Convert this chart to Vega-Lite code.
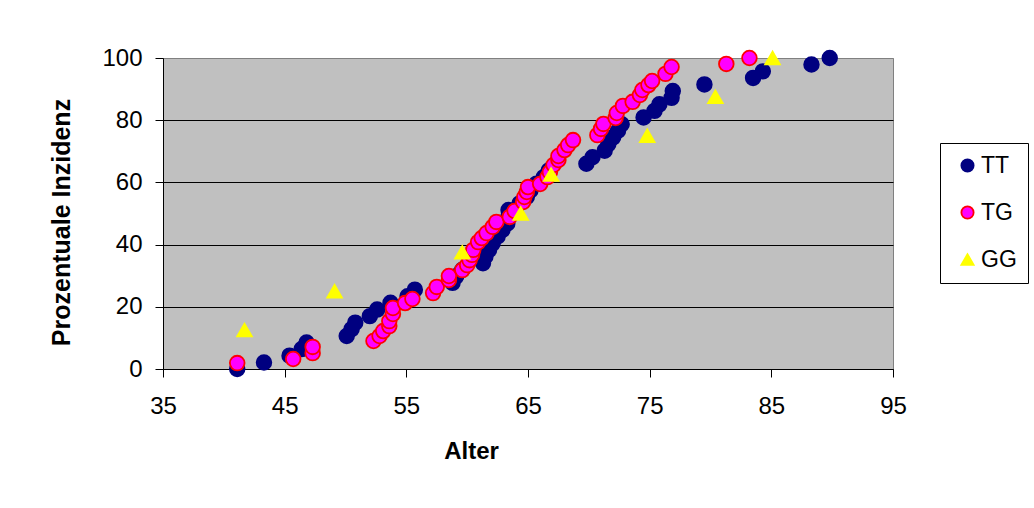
{
  "$schema": "https://vega.github.io/schema/vega-lite/v6.json",
  "width": 730,
  "height": 311,
  "autosize": {"type": "none"},
  "padding": {"left": 163, "top": 58, "right": 141, "bottom": 139},
  "background": "white",
  "data": {
    "values": [
      {"g": "TT", "alter": 41.1, "p": 0},
      {"g": "TT", "alter": 43.3, "p": 2.1},
      {"g": "TT", "alter": 45.4, "p": 4.3},
      {"g": "TT", "alter": 46.4, "p": 6.4},
      {"g": "TT", "alter": 46.8, "p": 8.5},
      {"g": "TT", "alter": 50.1, "p": 10.6},
      {"g": "TT", "alter": 50.5, "p": 12.8},
      {"g": "TT", "alter": 50.8, "p": 14.9},
      {"g": "TT", "alter": 52.0, "p": 17.0},
      {"g": "TT", "alter": 52.6, "p": 19.1},
      {"g": "TT", "alter": 53.7, "p": 21.3},
      {"g": "TT", "alter": 55.1, "p": 23.4},
      {"g": "TT", "alter": 55.7, "p": 25.5},
      {"g": "TT", "alter": 58.8, "p": 27.7},
      {"g": "TT", "alter": 59.1, "p": 29.8},
      {"g": "TT", "alter": 59.6, "p": 31.9},
      {"g": "TT", "alter": 61.3, "p": 34.0},
      {"g": "TT", "alter": 61.5, "p": 36.2},
      {"g": "TT", "alter": 61.8, "p": 38.3},
      {"g": "TT", "alter": 62.1, "p": 40.4},
      {"g": "TT", "alter": 62.5, "p": 42.6},
      {"g": "TT", "alter": 62.9, "p": 44.7},
      {"g": "TT", "alter": 63.3, "p": 46.8},
      {"g": "TT", "alter": 63.4, "p": 48.9},
      {"g": "TT", "alter": 63.4, "p": 51.1},
      {"g": "TT", "alter": 64.3, "p": 53.2},
      {"g": "TT", "alter": 64.9, "p": 55.3},
      {"g": "TT", "alter": 65.2, "p": 57.4},
      {"g": "TT", "alter": 65.7, "p": 59.6},
      {"g": "TT", "alter": 66.3, "p": 61.7},
      {"g": "TT", "alter": 66.7, "p": 63.8},
      {"g": "TT", "alter": 69.8, "p": 66.0},
      {"g": "TT", "alter": 70.3, "p": 68.1},
      {"g": "TT", "alter": 71.3, "p": 70.2},
      {"g": "TT", "alter": 71.6, "p": 72.3},
      {"g": "TT", "alter": 72.0, "p": 74.5},
      {"g": "TT", "alter": 72.4, "p": 76.6},
      {"g": "TT", "alter": 72.7, "p": 78.7},
      {"g": "TT", "alter": 74.5, "p": 80.9},
      {"g": "TT", "alter": 75.4, "p": 83.0},
      {"g": "TT", "alter": 75.8, "p": 85.1},
      {"g": "TT", "alter": 76.8, "p": 87.2},
      {"g": "TT", "alter": 76.9, "p": 89.4},
      {"g": "TT", "alter": 79.5, "p": 91.5},
      {"g": "TT", "alter": 83.5, "p": 93.6},
      {"g": "TT", "alter": 84.3, "p": 95.7},
      {"g": "TT", "alter": 88.3, "p": 97.9},
      {"g": "TT", "alter": 89.8, "p": 100},
      {"g": "TG", "alter": 41.1, "p": 1.9},
      {"g": "TG", "alter": 45.7, "p": 3.2},
      {"g": "TG", "alter": 47.3, "p": 5.1},
      {"g": "TG", "alter": 47.3, "p": 7.1},
      {"g": "TG", "alter": 52.3, "p": 9.0},
      {"g": "TG", "alter": 52.8, "p": 10.6},
      {"g": "TG", "alter": 53.1, "p": 12.2},
      {"g": "TG", "alter": 53.6, "p": 13.8},
      {"g": "TG", "alter": 53.6, "p": 15.4},
      {"g": "TG", "alter": 53.9, "p": 17.7},
      {"g": "TG", "alter": 53.9, "p": 19.6},
      {"g": "TG", "alter": 54.9, "p": 21.2},
      {"g": "TG", "alter": 55.5, "p": 22.5},
      {"g": "TG", "alter": 57.2, "p": 24.4},
      {"g": "TG", "alter": 57.5, "p": 26.4},
      {"g": "TG", "alter": 58.5, "p": 28.6},
      {"g": "TG", "alter": 58.5, "p": 29.9},
      {"g": "TG", "alter": 59.6, "p": 31.8},
      {"g": "TG", "alter": 60.0, "p": 33.4},
      {"g": "TG", "alter": 60.2, "p": 35.0},
      {"g": "TG", "alter": 60.4, "p": 36.7},
      {"g": "TG", "alter": 60.5, "p": 38.3},
      {"g": "TG", "alter": 60.9, "p": 40.8},
      {"g": "TG", "alter": 61.2, "p": 42.1},
      {"g": "TG", "alter": 61.6, "p": 43.7},
      {"g": "TG", "alter": 62.1, "p": 45.7},
      {"g": "TG", "alter": 62.4, "p": 47.3},
      {"g": "TG", "alter": 63.5, "p": 48.9},
      {"g": "TG", "alter": 63.9, "p": 50.8},
      {"g": "TG", "alter": 64.6, "p": 53.7},
      {"g": "TG", "alter": 64.7, "p": 55.3},
      {"g": "TG", "alter": 64.9, "p": 56.9},
      {"g": "TG", "alter": 65.0, "p": 58.5},
      {"g": "TG", "alter": 66.0, "p": 59.5},
      {"g": "TG", "alter": 66.6, "p": 61.7},
      {"g": "TG", "alter": 66.8, "p": 63.3},
      {"g": "TG", "alter": 67.1, "p": 65.6},
      {"g": "TG", "alter": 67.5, "p": 67.2},
      {"g": "TG", "alter": 67.5, "p": 68.5},
      {"g": "TG", "alter": 68.0, "p": 70.4},
      {"g": "TG", "alter": 68.3, "p": 72.0},
      {"g": "TG", "alter": 68.7, "p": 73.6},
      {"g": "TG", "alter": 70.7, "p": 75.2},
      {"g": "TG", "alter": 71.0, "p": 77.2},
      {"g": "TG", "alter": 71.2, "p": 78.8},
      {"g": "TG", "alter": 72.2, "p": 80.7},
      {"g": "TG", "alter": 72.3, "p": 82.3},
      {"g": "TG", "alter": 72.8, "p": 84.6},
      {"g": "TG", "alter": 73.6, "p": 85.9},
      {"g": "TG", "alter": 74.2, "p": 88.1},
      {"g": "TG", "alter": 74.4, "p": 89.7},
      {"g": "TG", "alter": 74.9, "p": 91.3},
      {"g": "TG", "alter": 75.2, "p": 92.6},
      {"g": "TG", "alter": 76.3, "p": 94.9},
      {"g": "TG", "alter": 76.8, "p": 97.1},
      {"g": "TG", "alter": 81.3, "p": 98.1},
      {"g": "TG", "alter": 83.2, "p": 100},
      {"g": "GG", "alter": 41.7, "p": 12.5},
      {"g": "GG", "alter": 49.1, "p": 25},
      {"g": "GG", "alter": 59.6, "p": 37.5},
      {"g": "GG", "alter": 64.4, "p": 50},
      {"g": "GG", "alter": 66.9, "p": 62.5},
      {"g": "GG", "alter": 74.8, "p": 75},
      {"g": "GG", "alter": 80.4, "p": 87.5},
      {"g": "GG", "alter": 85.1, "p": 100}
    ]
  },
  "mark": {"type": "point", "filled": true, "size": 215, "strokeWidth": 1.8, "opacity": 1, "clip": false},
  "encoding": {
    "x": {
      "field": "alter",
      "type": "quantitative",
      "scale": {"domain": [35, 95], "nice": false, "zero": false},
      "axis": {
        "values": [35, 45, 55, 65, 75, 85, 95],
        "title": "Alter",
        "grid": false,
        "tickSize": 8,
        "labelPadding": 17,
        "labelFlush": false,
        "labelOverlap": false,
        "titleX": 308,
        "titleY": 89,
        "titleBaseline": "alphabetic",
        "titleAlign": "center"
      }
    },
    "y": {
      "field": "p",
      "type": "quantitative",
      "scale": {"domain": [0, 100], "nice": false},
      "axis": {
        "values": [0, 20, 40, 60, 80, 100],
        "title": "Prozentuale Inzidenz",
        "grid": true,
        "gridColor": {"condition": {"test": "datum.value === 100", "value": "#808080"}, "value": "#000000"},
        "tickSize": 8,
        "labelPadding": 13,
        "labelFlush": false,
        "titleAngle": -90,
        "titleX": -94,
        "titleY": 164,
        "titleFontSize": 25,
        "titleBaseline": "alphabetic",
        "titleAlign": "center"
      }
    },
    "fill": {
      "field": "g",
      "type": "nominal",
      "scale": {"domain": ["TT", "TG", "GG"], "range": ["#000080", "#FF00FF", "#FFFF00"]},
      "legend": {"title": null}
    },
    "stroke": {
      "field": "g",
      "type": "nominal",
      "scale": {"domain": ["TT", "TG", "GG"], "range": ["#000080", "#FF0000", "#FFFF00"]},
      "legend": {"title": null}
    },
    "shape": {
      "field": "g",
      "type": "nominal",
      "scale": {"domain": ["TT", "TG", "GG"], "range": ["circle", "circle", "triangle-up"]},
      "legend": {"title": null}
    }
  },
  "config": {
    "view": {"stroke": "#808080", "strokeWidth": 1, "fill": "#C0C0C0"},
    "font": "Liberation Sans",
    "axis": {
      "domainColor": "#000000",
      "domainWidth": 1,
      "tickColor": "#000000",
      "tickWidth": 1,
      "gridWidth": 1,
      "labelColor": "#000000",
      "labelFont": "Liberation Sans",
      "labelFontSize": 24,
      "titleColor": "#000000",
      "titleFont": "Liberation Sans",
      "titleFontSize": 24,
      "titleFontWeight": "bold"
    },
    "legend": {
      "orient": "none",
      "legendX": 777,
      "legendY": 85,
      "padding": 11,
      "strokeColor": "#000000",
      "fillColor": "#FFFFFF",
      "labelFont": "Liberation Sans",
      "labelFontSize": 23,
      "labelColor": "#000000",
      "symbolSize": 150,
      "symbolOffset": 5,
      "labelOffset": 2,
      "rowPadding": 23,
      "symbolStrokeWidth": 1.8
    }
  }
}
